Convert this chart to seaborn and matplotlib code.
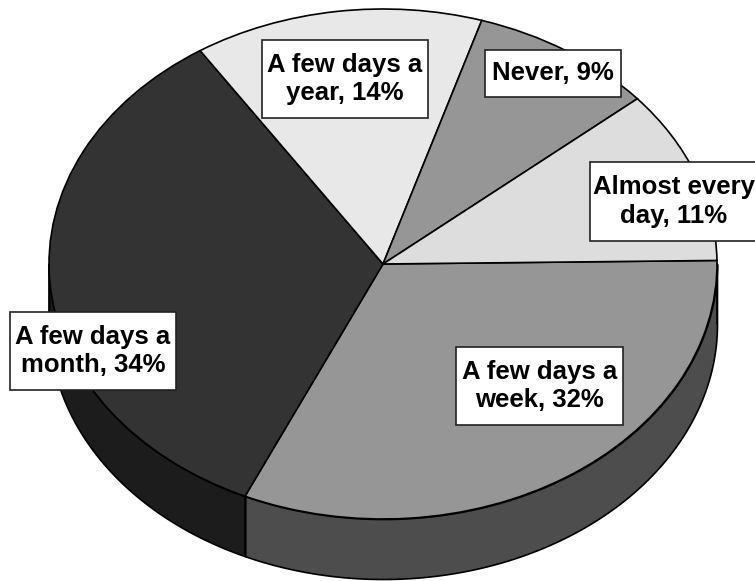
import numpy as np
import matplotlib
matplotlib.use("Agg")
import matplotlib.pyplot as plt
from matplotlib.patches import Rectangle
import seaborn as sns

# Survey shares, clockwise from just above three o'clock
categories = ["A few days a\nweek", "A few days a\nmonth", "A few days a\nyear", "Never", "Almost every\nday"]
shares = [32, 34, 14, 9, 11]

top_colors = ["#969696", "#333333", "#e8e8e8", "#969696", "#dddddd"]
wall_colors = ["#4d4d4d", "#1c1c1c", "#747474", "#4d4d4d", "#6f6f6f"]

sns.set_theme(style="white")
plt.rcParams["font.family"] = ["Liberation Sans", "DejaVu Sans"]

W, H = 755, 581
CX, CY, RX, RY = 383, 264, 334, 255
DEPTH = 60 / RY
START = 0.8


def px(x, y):
    """Convert canvas pixels (origin top-left) to unit-pie coordinates."""
    return (x - CX) / RX, (CY - y) / RY


fig = plt.figure(figsize=(W / 100, H / 100), dpi=100)
ax = fig.add_axes([0, 0, 1, 1])

ax.pie(
    shares,
    colors=top_colors,
    startangle=START,
    counterclock=False,
    radius=1,
    wedgeprops=dict(edgecolor="black", linewidth=1.2, zorder=3),
)
ax.set_aspect("auto")
ax.set_xlim(px(0, 0)[0], px(W, 0)[0])
ax.set_ylim(px(0, H)[1], px(0, 0)[1])
ax.axis("off")

# Extruded rim: only the part of each slice on the front half of the ellipse shows
edges = np.cumsum([0] + shares) * 3.6 - START
for start, stop, color in zip(edges[:-1], edges[1:], wall_colors):
    stop = min(stop, 180)
    if start >= 180:
        continue
    theta = np.radians(np.linspace(max(start, 0), stop, 200))
    x, y = np.cos(theta), -np.sin(theta)
    ax.fill_between(x, y, y - DEPTH, color=color, edgecolor="black", linewidth=1.2, zorder=2)
    ax.plot([x[0], x[0]], [y[0], y[0] - DEPTH], color="black", lw=1.2, zorder=2)
    ax.plot([x[-1], x[-1]], [y[-1], y[-1] - DEPTH], color="black", lw=1.2, zorder=2)

# Boxed labels: left, top, right, bottom of each box in canvas pixels
label_boxes = [(456, 347, 623, 425), (10, 312, 176, 390), (262, 40, 428, 118), (485, 50, 621, 97), (590, 162, 758, 241)]
for name, share, (x0, y0, x1, y1) in zip(categories, shares, label_boxes):
    bx, by = px(x0, y1)
    tx, ty = px(x1, y0)
    ax.add_patch(Rectangle((bx, by), tx - bx, ty - by, facecolor="white",
                           edgecolor="#222222", linewidth=1.2, zorder=4, clip_on=False))
    cx, cy = px((x0 + x1) / 2, (y0 + y1) / 2)
    ax.text(
        cx, cy, f"{name}, {share}%",
        ha="center", va="center", ma="center",
        fontsize=18.5, fontweight="bold", color="black", linespacing=1.25,
        zorder=5, clip_on=False,
    )

fig.savefig("out.png", dpi=100)
